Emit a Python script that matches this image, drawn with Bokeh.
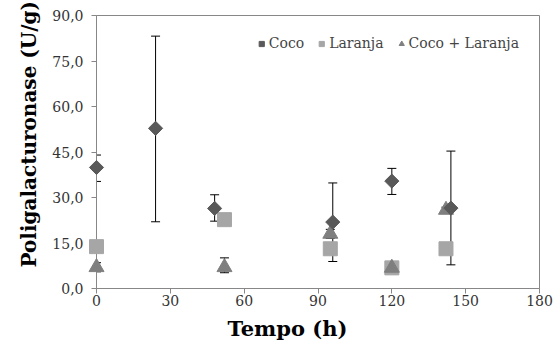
import math
from bokeh.plotting import figure
from bokeh.models import Range1d, FixedTicker, Whisker, ColumnDataSource, Legend, LegendItem, TeeHead, Title
from bokeh.embed import file_html
from bokeh.resources import INLINE

# Data
coco_t = [0, 24, 48, 96, 120, 144]
coco_v = [39.9, 52.8, 26.4, 21.9, 35.4, 26.5]
coco_lo = [35.3, 22.0, 22.2, 8.9, 31.0, 7.8]
coco_hi = [44.0, 83.2, 30.9, 34.8, 39.6, 45.3]

lar_t = [0, 52, 95, 120, 142]
lar_v = [13.8, 22.7, 13.1, 6.8, 13.1]

mix_t = [0, 52, 95, 120, 142]
mix_v = [7.0, 7.0, 18.0, 6.8, 25.9]
mix_lo = [5.5, 5.2, 16.5, 6.0, 25.0]
mix_hi = [8.5, 10.1, 19.5, 7.6, 26.8]

x_ticks = [0, 30, 60, 90, 120, 150, 180]
y_ticks = [0, 15, 30, 45, 60, 75, 90]
y_labels = ["0,0", "15,0", "30,0", "45,0", "60,0", "75,0", "90,0"]
x_title = "Tempo (h)"
y_title = "Poligalacturonase (U/g)"

AX = "#878787"
FONT = "DejaVu Serif"

p = figure(width=555, height=347, x_range=Range1d(0, 180), y_range=Range1d(0, 90),
           output_backend="svg", toolbar_location=None,
           min_border_left=96, min_border_right=16, min_border_top=15, min_border_bottom=59)
p.outline_line_color = AX
p.xgrid.visible = False
p.ygrid.visible = False

for ax in (p.xaxis[0], p.yaxis[0]):
    ax.axis_line_color = AX
    ax.major_tick_line_color = AX
    ax.minor_tick_line_color = None
    ax.major_tick_out = 5
    ax.major_tick_in = 0
    ax.major_label_text_font = FONT
    ax.major_label_text_font_size = "14px"
    ax.major_label_text_color = "#333333"

p.xaxis.ticker = FixedTicker(ticks=x_ticks)
p.yaxis.ticker = FixedTicker(ticks=y_ticks)
p.yaxis.major_label_overrides = {t: l for t, l in zip(y_ticks, y_labels)}
p.xaxis.major_label_standoff = 1
p.yaxis.major_label_standoff = 8

# Axis titles as side titles so they can sit off-centre like the original
p.add_layout(Title(text=x_title, text_font=FONT, text_font_style="bold",
                   text_font_size="21px", align="left", offset=131, standoff=10,
                   text_color="black"), "below")
p.add_layout(Title(text=y_title, text_font=FONT, text_font_style="bold",
                   text_font_size="20px", align="left", offset=21, standoff=17,
                   text_color="black"), "left")

src_c = ColumnDataSource(dict(x=coco_t, lo=coco_lo, hi=coco_hi))
src_m = ColumnDataSource(dict(x=mix_t, lo=mix_lo, hi=mix_hi))
for src in (src_c, src_m):
    w = Whisker(source=src, base="x", upper="hi", lower="lo", dimension="height",
                line_color="black", line_width=1,
                upper_head=TeeHead(size=9, line_color="black", line_width=1),
                lower_head=TeeHead(size=9, line_color="black", line_width=1))
    p.add_layout(w)

r_lar = p.scatter(lar_t, lar_v, marker="square", size=14, fill_color="#A6A6A6",
                  line_color="#A6A6A6", level="overlay")
r_mix = p.scatter(mix_t, mix_v, marker="triangle", size=15, fill_color="#7F7F7F",
                  line_color="#7F7F7F", level="overlay")
r_coco = p.scatter(coco_t, coco_v, marker="square", angle=math.pi / 4, size=10,
                   fill_color="#595959", line_color="#595959", level="overlay")

legend = Legend(items=[LegendItem(label="Coco", renderers=[r_coco]),
                       LegendItem(label="Laranja", renderers=[r_lar]),
                       LegendItem(label="Coco + Laranja", renderers=[r_mix])],
                orientation="horizontal", location="top_right",
                background_fill_alpha=0, border_line_color=None,
                label_text_font=FONT, label_text_font_size="14px",
                glyph_width=13, glyph_height=13, label_standoff=1, spacing=11,
                margin=20, padding=0)
p.add_layout(legend)

open("out.html", "w").write(file_html(p, INLINE))
